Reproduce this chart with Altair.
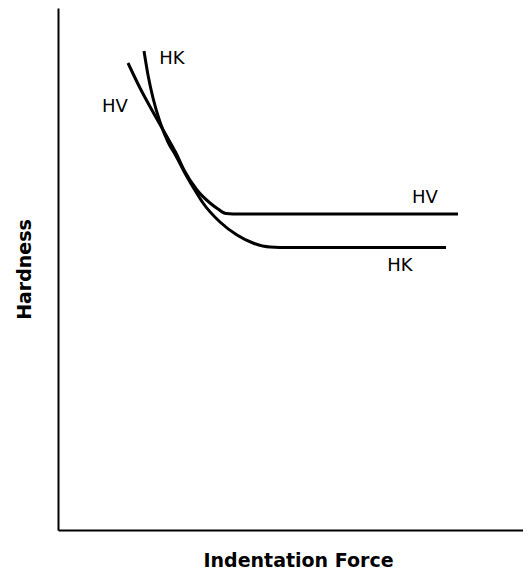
import altair as alt
import pandas as pd

# HV curve (Vickers)
hv_force = [70, 82, 95, 108, 118, 126, 139, 152, 160, 168, 182, 400]
hv_hard = [470, 445, 421, 398, 380, 363, 343, 330, 324, 319.5, 319, 319]

# HK curve (Knoop)
hk_force = [86, 90, 95, 102, 110, 118, 128, 138, 145, 162, 179, 195, 212, 232, 388]
hk_hard = [482, 458, 435, 411, 391, 377, 358, 341, 330, 311, 298, 290, 286, 285.5, 285.5]

# curve labels
lab_text = ["HK", "HV", "HV", "HK"]
lab_force = [114, 57, 367, 342]
lab_hard = [474, 426, 335, 267]

hv = pd.DataFrame({"force": hv_force, "hard": hv_hard, "s": "HV", "o": range(len(hv_force))})
hk = pd.DataFrame({"force": hk_force, "hard": hk_hard, "s": "HK", "o": range(len(hk_force))})
curves = pd.concat([hv, hk], ignore_index=True)
labels = pd.DataFrame({"t": lab_text, "force": lab_force, "hard": lab_hard})

xs = alt.Scale(domain=[0, 465], nice=False, zero=False)
ys = alt.Scale(domain=[3, 525], nice=False, zero=False)

xax = alt.Axis(ticks=False, labels=False, grid=False, domainColor="black", domainWidth=2,
               title="Indentation Force", titleFont="DejaVu Sans", titleFontSize=19,
               titleFontWeight="bold", titleColor="black", titlePadding=21, titleX=240)
yax = alt.Axis(ticks=False, labels=False, grid=False, domainColor="black", domainWidth=2,
               title="Hardness", titleFont="DejaVu Sans", titleFontSize=19,
               titleFontWeight="bold", titleColor="black", titlePadding=24)

lines = alt.Chart(curves).mark_line(color="black", strokeWidth=3, interpolate="monotone").encode(
    x=alt.X("force:Q", scale=xs, axis=xax),
    y=alt.Y("hard:Q", scale=ys, axis=yax),
    detail="s:N",
    order="o:Q",
)

texts = alt.Chart(labels).mark_text(font="DejaVu Sans", fontSize=18, color="black",
                                    align="center", baseline="middle").encode(
    x=alt.X("force:Q", scale=xs),
    y=alt.Y("hard:Q", scale=ys),
    text="t:N",
)

chart = (lines + texts).properties(
    width=465, height=522,
    autosize=alt.AutoSizeParams(type="none"),
    padding={"left": 50, "top": 0, "right": 0, "bottom": 43},
).configure(
    background="white",
    view=alt.ViewConfig(stroke="transparent", strokeWidth=0),
)

chart.save("out.html", embed_options={"renderer": "svg", "actions": False})
